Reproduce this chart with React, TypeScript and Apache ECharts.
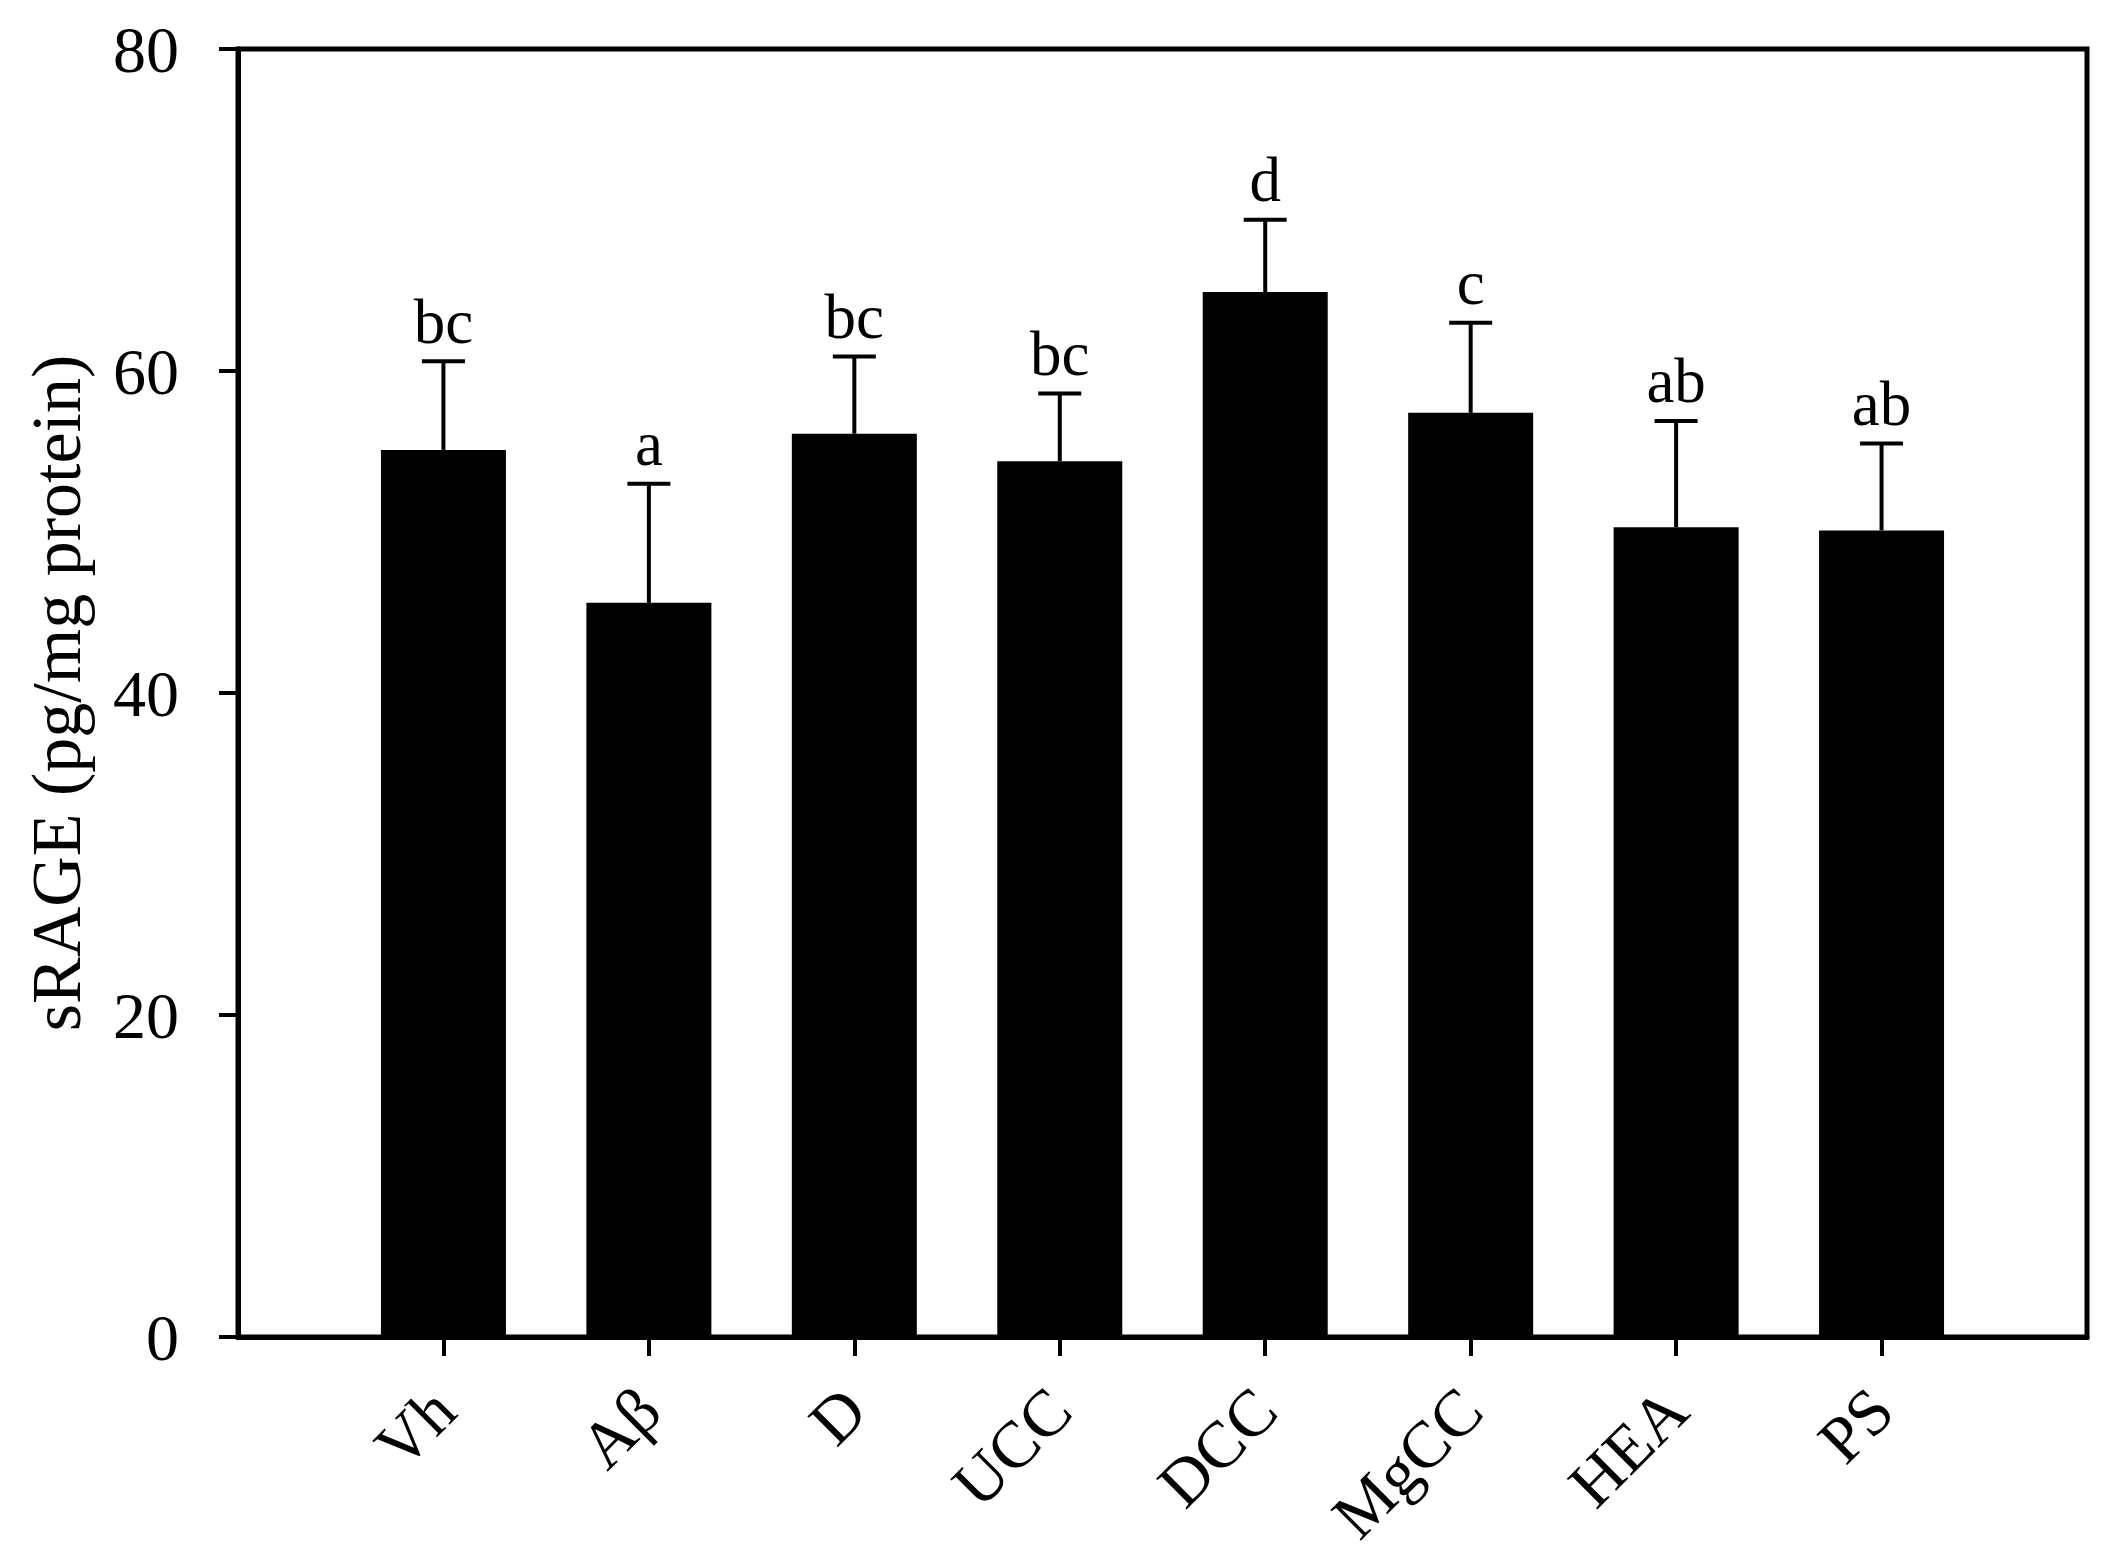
import React, { useEffect, useRef } from "react";
import * as echarts from "echarts";

const categories = ["Vh", "Aβ", "D", "UCC", "DCC", "MgCC", "HEA", "PS"];
const means = [55.1, 45.6, 56.1, 54.4, 64.9, 57.4, 50.3, 50.1];
const errors = [5.5, 7.4, 4.8, 4.2, 4.5, 5.6, 6.6, 5.4];
const letters = ["bc", "a", "bc", "bc", "d", "c", "ab", "ab"];
const yTicks = [0, 20, 40, 60, 80];

const FONT = "'Times New Roman', 'Liberation Serif', serif";

export default function App() {
  const ref = useRef<HTMLDivElement>(null);
  useEffect(() => {
    if (!ref.current) return;
    const chart = echarts.init(ref.current, null, { renderer: "svg" });
    const axisCats = ["", ...categories, ""];
    const barData = ["-", ...means, "-"];
    const errData = categories.map((c, i) => [i + 1, means[i], errors[i], letters[i]]);
    chart.setOption({
      animation: false,
      backgroundColor: "#ffffff",
      grid: {
        left: 238,
        right: 31,
        top: 49,
        bottom: 221,
        show: true,
        borderColor: "#000",
        borderWidth: 5,
      },
      xAxis: {
        type: "category",
        data: axisCats,
        boundaryGap: false,
        axisLine: { show: true, lineStyle: { color: "#000", width: 5 } },
        axisTick: {
          show: true,
          inside: false,
          length: 19,
          interval: (index: number) => index > 0 && index < axisCats.length - 1,
          lineStyle: { color: "#000", width: 4 },
        },
        axisLabel: {
          interval: 0,
          rotate: 45,
          margin: 62,
          color: "#000",
          fontFamily: FONT,
          fontSize: 66,
        },
        splitLine: { show: false },
      },
      yAxis: {
        type: "value",
        min: yTicks[0],
        max: yTicks[yTicks.length - 1],
        interval: 20,
        name: "sRAGE (pg/mg protein)",
        nameLocation: "middle",
        nameGap: 147,
        nameRotate: 90,
        nameTextStyle: { color: "#000", fontFamily: FONT, fontSize: 70 },
        axisLine: { show: true, lineStyle: { color: "#000", width: 5 } },
        axisTick: { show: true, inside: false, length: 19, lineStyle: { color: "#000", width: 4 } },
        axisLabel: { margin: 59, color: "#000", fontFamily: FONT, fontSize: 66 },
        splitLine: { show: false },
      },
      series: [
        {
          type: "bar",
          data: barData,
          barWidth: 125,
          itemStyle: { color: "#000" },
          z: 2,
        },
        {
          type: "custom",
          data: errData,
          z: 3,
          renderItem: (params: any, api: any) => {
            const x = api.value(0);
            const m = api.value(1);
            const e = api.value(2);
            const lab = letters[params.dataIndex];
            const p0 = api.coord([x, m]);
            const p1 = api.coord([x, m + e]);
            const half = 21.5;
            return {
              type: "group",
              children: [
                {
                  type: "line",
                  shape: { x1: p0[0], y1: p0[1], x2: p1[0], y2: p1[1] },
                  style: { stroke: "#000", lineWidth: 4 },
                },
                {
                  type: "line",
                  shape: { x1: p1[0] - half, y1: p1[1], x2: p1[0] + half, y2: p1[1] },
                  style: { stroke: "#000", lineWidth: 4 },
                },
                {
                  type: "text",
                  x: p1[0],
                  y: p1[1] - 8,
                  style: {
                    text: lab,
                    fill: "#000",
                    font: `63px ${FONT}`,
                    align: "center",
                    verticalAlign: "bottom",
                  },
                },
              ],
            };
          },
        },
      ],
    });
    return () => chart.dispose();
  }, []);
  return (
    <div
      ref={ref}
      style={{ position: "absolute", left: 0, top: 0, width: 2118, height: 1558, background: "#fff" }}
    />
  );
}
